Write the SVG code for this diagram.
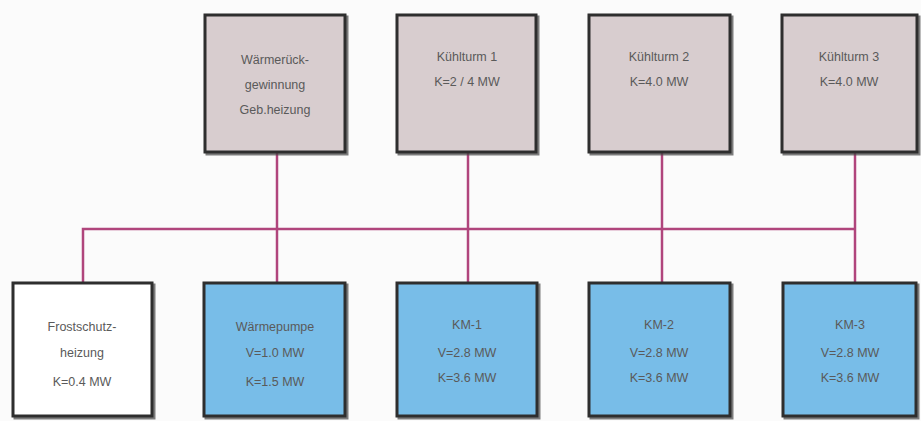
<svg xmlns="http://www.w3.org/2000/svg" width="921" height="421" viewBox="0 0 921 421">
<defs>
<filter id="sh" x="-5%" y="-5%" width="115%" height="115%">
<feDropShadow dx="2" dy="2" stdDeviation="0.6" flood-color="#444" flood-opacity="0.7"/>
</filter>
</defs>
<style>
.box{stroke:#2e2e2e;stroke-width:3;filter:url(#sh)}
.top{fill:#d8cdcf}
.blue{fill:#78bde8}
.white{fill:#ffffff}
.t{font-family:"Liberation Sans",Arial,sans-serif;font-size:12.5px;fill:#5a5a5a;text-anchor:middle}
.c{stroke:#b0457c;stroke-width:2.5;fill:none}
</style>
<rect width="921" height="421" fill="#fbfbfb"/>
<g id="connectors">
<path class="c" d="M83 283 V229 H855"/>
<path class="c" d="M277 152 V283"/>
<path class="c" d="M468 152 V283"/>
<path class="c" d="M662 152 V283"/>
<path class="c" d="M855 152 V283"/>
</g>
<g id="waermerueck">
<rect class="box top" x="205" y="15" width="140" height="137"/>
<text class="t" x="275" y="64">Wärmerück-</text>
<text class="t" x="275" y="89">gewinnung</text>
<text class="t" x="275" y="114">Geb.heizung</text>
</g>
<g id="kuehlturm1">
<rect class="box top" x="397" y="15" width="139" height="137"/>
<text class="t" x="467" y="61">Kühlturm 1</text>
<text class="t" x="467" y="86">K=2 / 4 MW</text>
</g>
<g id="kuehlturm2">
<rect class="box top" x="589" y="15" width="141" height="137"/>
<text class="t" x="659" y="61">Kühlturm 2</text>
<text class="t" x="659" y="86">K=4.0 MW</text>
</g>
<g id="kuehlturm3">
<rect class="box top" x="782" y="15" width="135" height="137"/>
<text class="t" x="849" y="61">Kühlturm 3</text>
<text class="t" x="849" y="86">K=4.0 MW</text>
</g>
<g id="frostschutz">
<rect class="box white" x="13" y="283" width="139" height="133"/>
<text class="t" x="82" y="331">Frostschutz-</text>
<text class="t" x="82" y="357">heizung</text>
<text class="t" x="82" y="386">K=0.4 MW</text>
</g>
<g id="waermepumpe">
<rect class="box blue" x="204" y="283" width="141" height="133"/>
<text class="t" x="275" y="331">Wärmepumpe</text>
<text class="t" x="275" y="357">V=1.0 MW</text>
<text class="t" x="275" y="386">K=1.5 MW</text>
</g>
<g id="km1">
<rect class="box blue" x="397" y="283" width="140" height="133"/>
<text class="t" x="467" y="329">KM-1</text>
<text class="t" x="467" y="357">V=2.8 MW</text>
<text class="t" x="467" y="382">K=3.6 MW</text>
</g>
<g id="km2">
<rect class="box blue" x="589" y="283" width="141" height="133"/>
<text class="t" x="659" y="329">KM-2</text>
<text class="t" x="659" y="357">V=2.8 MW</text>
<text class="t" x="659" y="382">K=3.6 MW</text>
</g>
<g id="km3">
<rect class="box blue" x="783" y="283" width="133" height="133"/>
<text class="t" x="850" y="329">KM-3</text>
<text class="t" x="850" y="357">V=2.8 MW</text>
<text class="t" x="850" y="382">K=3.6 MW</text>
</g>
</svg>
